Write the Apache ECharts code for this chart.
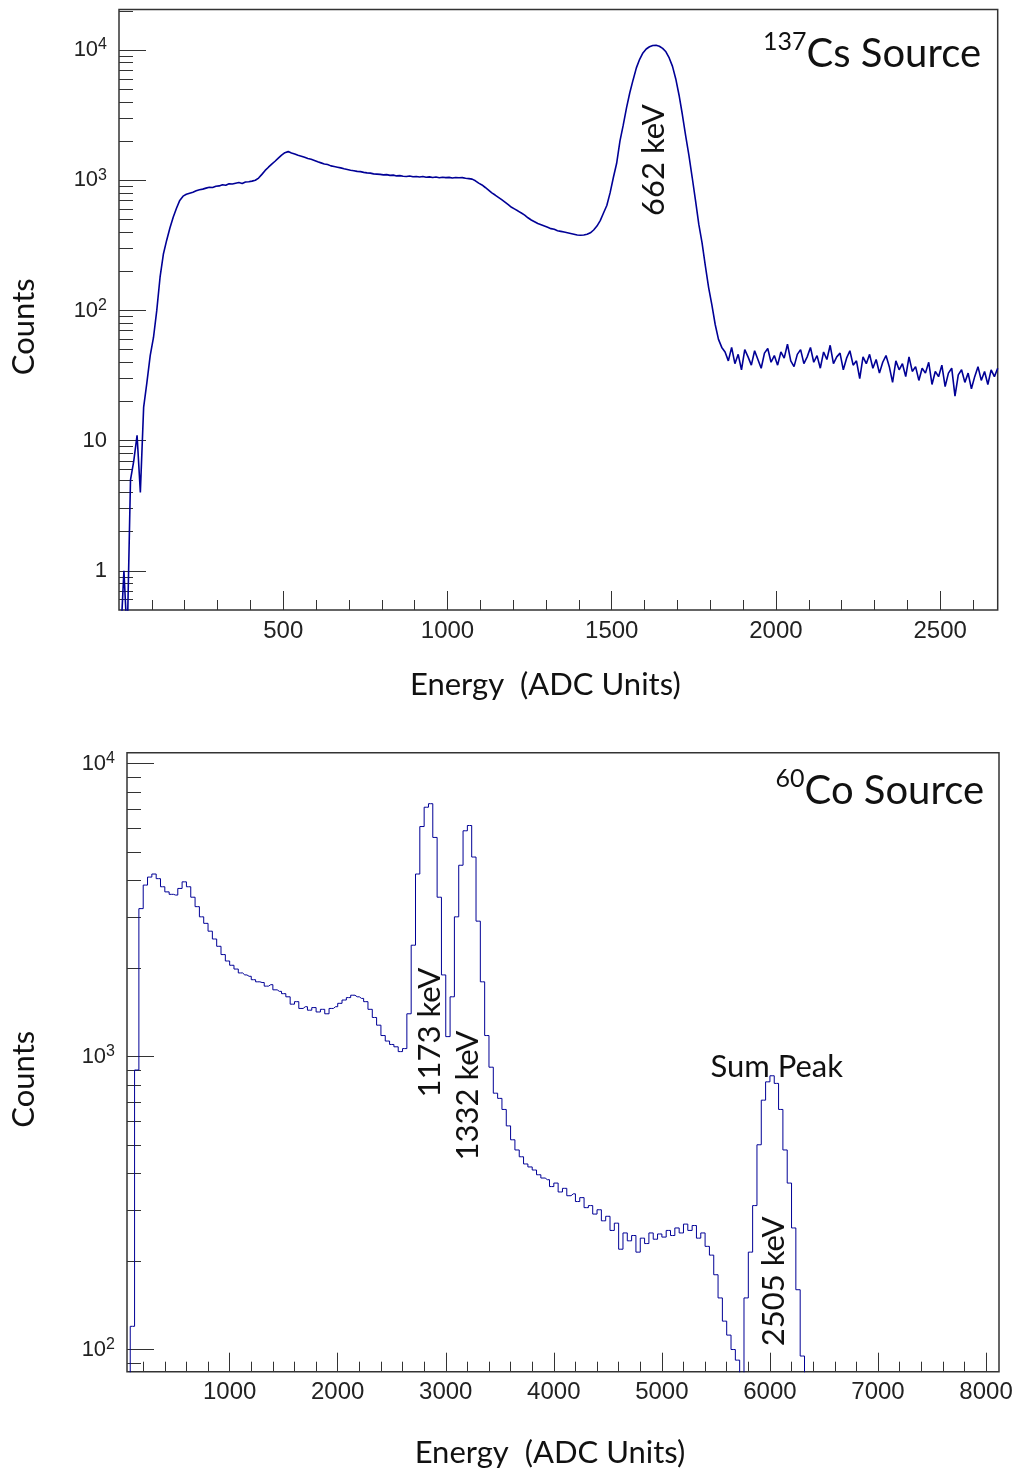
<!DOCTYPE html>
<html>
<head>
<meta charset="utf-8">
<title>Cs-137 and Co-60 spectra</title>
<script src="https://cdn.jsdelivr.net/npm/echarts@6/dist/echarts.min.js"></script>
<style>
  html, body { margin: 0; padding: 0; background: #fff; }
  #chart-spectra { width: 1016px; height: 1471px; }
</style>
</head>
<body>
<div id="chart-spectra"></div>
<script>
// ---- 137Cs spectrum: counts per 10 ADC-unit bin, first bin centred at 5 ----
const csBinStart = 5;
const csBinWidth = 10;
const csCounts = [
  0.3, 1, 0.3, 5, 7, 11, 4, 18, 28, 45,
  62, 100, 180, 270, 345, 430, 520, 610, 700, 755,
  780, 795, 810, 830, 845, 855, 870, 885, 880, 900,
  905, 925, 915, 940, 935, 950, 960, 945, 970, 975,
  985, 1000, 1040, 1110, 1190, 1260, 1330, 1400, 1480, 1560,
  1630, 1660, 1620, 1590, 1555, 1530, 1500, 1470, 1450, 1420,
  1385, 1360, 1335, 1320, 1290, 1275, 1260, 1245, 1225, 1210,
  1195, 1185, 1170, 1165, 1150, 1140, 1135, 1120, 1115, 1110,
  1100, 1105, 1090, 1095, 1080, 1085, 1075, 1070, 1078, 1065,
  1070, 1060, 1068, 1055, 1062, 1050, 1058, 1045, 1055, 1048,
  1052, 1040, 1050, 1045, 1048, 1035, 1030, 1020, 990, 950,
  920, 880, 840, 800, 770, 740, 710, 680, 650, 620,
  600, 580, 560, 540, 515, 495, 480, 465, 455, 445,
  435, 425, 420, 410, 405, 400, 395, 390, 385, 380,
  378, 380, 385, 395, 415, 445, 490, 560, 640, 800,
  1050, 1350, 2000, 2650, 3600, 4700, 5900, 7300, 8500, 9500,
  10200, 10600, 10850, 10900, 10700, 10300, 9700, 8700, 7500, 6000,
  4500, 3200, 2200, 1550, 1050, 700, 460, 330, 220, 150,
  110, 78, 60, 52, 48, 41, 52, 39, 46, 35,
  50, 44, 38, 49, 42, 36, 47, 51, 40, 45,
  38, 48, 43, 55, 41, 37, 46, 50, 39, 44,
  52, 40, 45, 36, 48, 42, 54, 39, 44, 47,
  35, 43, 49, 38, 41, 30, 44, 39, 46, 36,
  42, 33, 40, 45, 37, 28, 41, 35, 39, 31,
  44, 34, 37, 29, 36, 33, 40, 27, 34, 31,
  38, 26, 33, 36, 22, 32, 35, 28, 33, 25,
  31, 37, 29, 34, 27, 35, 31, 36
];

// ---- 60Co spectrum: counts per 40 ADC-unit bin, first bin centred at 60 ----
const coBinStart = 60;
const coBinWidth = 40;
const coCounts = [
  30, 120, 900, 3200, 3850, 4100, 4200, 4050, 3800, 3650,
  3580, 3560, 3750, 3950, 3800, 3500, 3250, 3000, 2850, 2680,
  2520, 2380, 2230, 2120, 2050, 1990, 1930, 1900, 1880, 1830,
  1800, 1790, 1740, 1760, 1690, 1670, 1640, 1600, 1510, 1540,
  1460, 1480, 1440, 1470, 1420, 1450, 1400, 1460, 1480, 1520,
  1560, 1590, 1620, 1600, 1580, 1540, 1450, 1360, 1280, 1180,
  1130, 1100, 1080, 1040, 1065, 1400, 2400, 4200, 6100, 7100,
  7300, 5600, 3500, 1900, 1170, 1600, 3000, 4500, 5900, 6150,
  4800, 2900, 1800, 1180, 920, 750, 720, 660, 580, 520,
  480, 455, 430, 420, 410, 395, 385, 380, 360, 370,
  345, 355, 335, 340, 320, 330, 305, 310, 290, 300,
  275, 285, 255, 270, 220, 250, 235, 245, 215, 240,
  230, 250, 238, 248, 242, 255, 245, 260, 250, 268,
  255, 265, 240, 250, 225, 210, 180, 150, 125, 112,
  100, 92, 60, 150, 215, 310, 500, 710, 820, 860,
  810, 660, 480, 370, 260, 160, 95, 40
];

// axis ranges
const csEnergyRange = [0, 2675];
const csCountRange = [0.5, 20500];
const coEnergyRange = [50, 8120];
const coCountRange = [84, 10900];

// tick labels
const csMajorX = [500, 1000, 1500, 2000, 2500];
const csMinorX = [100, 200, 300, 400, 600, 700, 800, 900, 1100, 1200, 1300, 1400,
  1600, 1700, 1800, 1900, 2100, 2200, 2300, 2400, 2600];
const coMajorX = [1000, 2000, 3000, 4000, 5000, 6000, 7000, 8000];
const coMinorX = [200, 400, 600, 800, 1200, 1400, 1600, 1800, 2200, 2400, 2600, 2800,
  3200, 3400, 3600, 3800, 4200, 4400, 4600, 4800, 5200, 5400, 5600, 5800,
  6200, 6400, 6600, 6800, 7200, 7400, 7600, 7800];
const csDecades = [1, 10, 100, 1000, 10000];
const coDecades = [100, 1000, 10000];
const mantissas = [2, 3, 4, 5, 6, 7, 8, 9];

// peak annotations
const csPeakNames = ['662 keV'];
const csPeakEnergy = [1630];
const csPeakCounts = [1430];
const coPeakNames = ['1173 keV', '1332 keV', '2505 keV'];
const coPeakEnergy = [2850, 3210, 6040];
const coPeakCounts = [1208, 736, 171];
const coSumName = 'Sum Peak';
const coSumEnergy = 6063;
const coSumCounts = 925;

const AXIS_FONT = "'Liberation Sans', Arial, sans-serif";
const TEXT_FONT = "Lato, 'Open Sans', sans-serif";
const INK = '#333333';
const TRACE = '#000096';

// minor ticks of a log axis, kept strictly inside the range
function minorLogTicks(range) {
  const out = [];
  [0.1, 1, 10, 100, 1000, 10000].forEach(d => {
    mantissas.forEach(m => {
      const v = m * d;
      if (v > range[0] && v < range[1]) out.push(v);
    });
  });
  return out;
}

function decadeLabel(v) {
  const e = Math.round(v);
  if (e === 0) return '{base|1}';
  if (e === 1) return '{base|10}';
  return '{base|10}{sup|' + e + '}';
}

const labelRich = {
  base: { fontSize: 22, lineHeight: 26, fontFamily: AXIS_FONT, color: '#222' },
  sup: { fontSize: 16, lineHeight: 16, verticalAlign: 'top', fontFamily: AXIS_FONT, color: '#222' }
};

function energyAxes(gridIndex, range, major, minor, nameGap) {
  return [
    {
      type: 'value', gridIndex, min: range[0], max: range[1], position: 'bottom',
      axisLine: { show: false, onZero: false },
      axisTick: { show: true, inside: true, length: 19, customValues: major, lineStyle: { color: INK, width: 1 } },
      axisLabel: {
        show: true, customValues: major, margin: 9, color: '#222',
        fontFamily: AXIS_FONT, fontSize: 24, formatter: v => String(v)
      },
      splitLine: { show: false },
      name: 'Energy  (ADC Units)', nameLocation: 'middle', nameGap,
      nameTextStyle: { fontFamily: TEXT_FONT, fontSize: 31, color: '#111', padding: [0, 26, 0, 0] }
    },
    {
      type: 'value', gridIndex, min: range[0], max: range[1], position: 'bottom',
      axisLine: { show: false, onZero: false },
      axisTick: { show: true, inside: true, length: 10, customValues: minor, lineStyle: { color: INK, width: 1 } },
      axisLabel: { show: false },
      splitLine: { show: false }
    }
  ];
}

function countAxes(gridIndex, range, decades, nameGap) {
  const lo = Math.log10(range[0]);
  const hi = Math.log10(range[1]);
  const majors = decades.map(Math.log10);
  const minors = minorLogTicks(range).map(Math.log10);
  return [
    {
      type: 'log', logBase: 10, gridIndex, min: range[0], max: range[1], position: 'left',
      axisLine: { show: false, onZero: false },
      axisTick: { show: false }, axisLabel: { show: false }, splitLine: { show: false },
      name: 'Counts', nameLocation: 'middle', nameGap,
      nameTextStyle: { fontFamily: TEXT_FONT, fontSize: 31, color: '#111', padding: [0, 34, 0, 0] }
    },
    {
      type: 'value', gridIndex, min: lo, max: hi, position: 'left',
      axisLine: { show: false, onZero: false },
      axisTick: { show: true, inside: true, length: 27, customValues: majors, lineStyle: { color: INK, width: 1 } },
      axisLabel: { show: true, customValues: majors, margin: 12, formatter: decadeLabel, rich: labelRich },
      splitLine: { show: false }
    },
    {
      type: 'value', gridIndex, min: lo, max: hi, position: 'left',
      axisLine: { show: false, onZero: false },
      axisTick: { show: true, inside: true, length: 14, customValues: minors, lineStyle: { color: INK, width: 1 } },
      axisLabel: { show: false },
      splitLine: { show: false }
    }
  ];
}

function peakMarks(names, energies, counts) {
  return names.map((n, i) => ({
    name: n,
    coord: [energies[i], counts[i]],
    label: { rotate: 90 }
  }));
}

const markLabel = {
  show: true, position: 'inside', formatter: '{b}', color: '#111',
  fontFamily: TEXT_FONT, fontSize: 31
};

const csData = csCounts.map((c, i) => [csBinStart + i * csBinWidth, c]);
const coData = coCounts.map((c, i) => [coBinStart + i * coBinWidth, c]);

const titleRich = {
  sup: { fontSize: 25, lineHeight: 26, verticalAlign: 'top', fontFamily: TEXT_FONT, color: '#111', fontWeight: 'normal' },
  main: { fontSize: 40, lineHeight: 50, fontFamily: TEXT_FONT, color: '#111', fontWeight: 'normal' }
};

const chart = echarts.init(document.getElementById('chart-spectra'), null, { renderer: 'canvas' });

const option = {
  animation: false,
  backgroundColor: '#ffffff',
  textStyle: { fontFamily: AXIS_FONT },
  title: [
    { text: '{sup|137}{main|Cs Source}', right: 35, top: 29, padding: 0, textStyle: { rich: titleRich } },
    { text: '{sup|60}{main|Co Source}', right: 32, top: 766, padding: 0, textStyle: { rich: titleRich } }
  ],
  grid: [
    { left: 115, top: 9.5, right: 18.3, height: 600.5, show: true, borderColor: INK, borderWidth: 1.5 },
    { left: 123.3, top: 752.7, right: 17, height: 619, show: true, borderColor: INK, borderWidth: 1.5 }
  ],
  xAxis: [
    ...energyAxes(0, csEnergyRange, csMajorX, csMinorX, 59),
    ...energyAxes(1, coEnergyRange, coMajorX, coMinorX, 66)
  ],
  yAxis: [
    ...countAxes(0, csCountRange, csDecades, 80),
    ...countAxes(1, coCountRange, coDecades, 88)
  ],
  series: [
    {
      name: '137Cs', type: 'line', xAxisIndex: 0, yAxisIndex: 0,
      data: csData, showSymbol: false, symbol: 'none', clip: true, silent: true,
      lineStyle: { color: TRACE, width: 1.6 },
      markPoint: {
        symbol: 'circle', symbolSize: 1, itemStyle: { color: 'rgba(0,0,0,0)' },
        label: markLabel,
        data: peakMarks(csPeakNames, csPeakEnergy, csPeakCounts)
      }
    },
    {
      name: '60Co', type: 'line', xAxisIndex: 2, yAxisIndex: 3,
      data: coData, step: 'middle', showSymbol: false, symbol: 'none', clip: true, silent: true,
      lineStyle: { color: TRACE, width: 1 },
      markPoint: {
        symbol: 'circle', symbolSize: 1, itemStyle: { color: 'rgba(0,0,0,0)' },
        label: markLabel,
        data: peakMarks(coPeakNames, coPeakEnergy, coPeakCounts).concat([
          { name: coSumName, coord: [coSumEnergy, coSumCounts], label: { rotate: 0 } }
        ])
      }
    }
  ]
};

chart.setOption(option);
</script>
</body>
</html>
